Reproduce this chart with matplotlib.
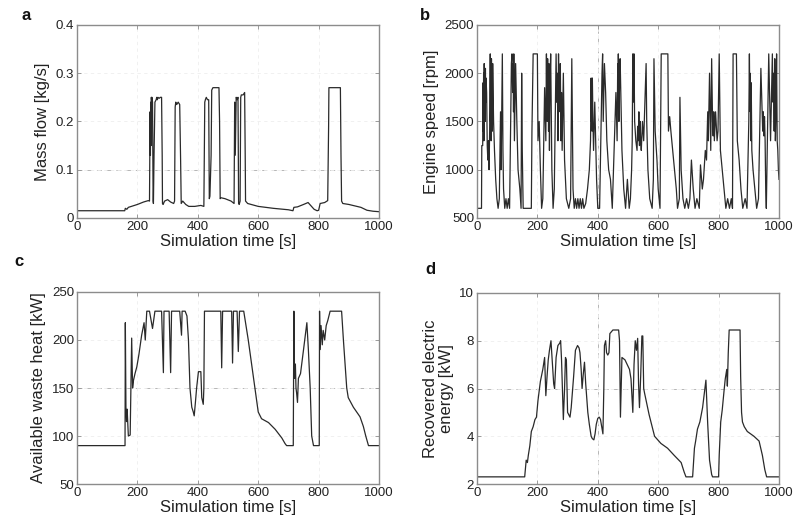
import numpy as np
import matplotlib
matplotlib.use("Agg")
import matplotlib.pyplot as plt

plt.rcParams['font.family'] = ['Liberation Sans', 'DejaVu Sans']

# a. mass flow [kg/s], (time, value)
a_points = [(0, 0.015), (158, 0.015), (160, 0.02), (165, 0.018), (170, 0.022), (180, 0.024), (200, 0.028),
            (220, 0.033), (236, 0.036), (240, 0.035), (242, 0.22), (243, 0.13), (244, 0.24), (245, 0.15),
            (246, 0.25), (247, 0.24), (248, 0.25), (250, 0.24), (252, 0.035), (253, 0.03), (255, 0.13),
            (258, 0.24), (262, 0.245), (264, 0.25), (266, 0.245), (268, 0.25), (272, 0.248), (276, 0.25),
            (280, 0.25), (282, 0.13), (283, 0.03), (285, 0.028), (290, 0.035), (300, 0.038), (310, 0.033),
            (320, 0.03), (323, 0.035), (325, 0.23), (327, 0.24), (330, 0.235), (335, 0.24), (340, 0.235),
            (343, 0.12), (345, 0.03), (350, 0.035), (360, 0.028), (370, 0.024), (390, 0.024), (410, 0.026),
            (420, 0.024), (423, 0.24), (425, 0.245), (428, 0.25), (432, 0.245), (436, 0.245), (438, 0.04),
            (440, 0.045), (444, 0.13), (446, 0.265), (450, 0.27), (470, 0.27), (472, 0.2), (474, 0.04),
            (476, 0.042), (490, 0.04), (510, 0.035), (520, 0.03), (522, 0.24), (524, 0.13), (527, 0.25),
            (530, 0.245), (533, 0.25), (535, 0.03), (537, 0.028), (540, 0.035), (542, 0.25), (544, 0.255),
            (550, 0.255), (555, 0.26), (557, 0.12), (558, 0.035), (565, 0.03), (600, 0.024), (650, 0.02),
            (700, 0.017), (715, 0.015), (718, 0.022), (730, 0.023), (750, 0.028), (765, 0.032), (775, 0.025),
            (785, 0.018), (795, 0.015), (800, 0.016), (805, 0.03), (820, 0.032), (830, 0.036), (833, 0.19),
            (834, 0.27), (850, 0.27), (872, 0.27), (874, 0.13), (876, 0.035), (880, 0.03), (900, 0.028),
            (920, 0.025), (940, 0.022), (960, 0.016), (980, 0.014), (1000, 0.013)]

# b. engine speed [rpm]
b_points = [(0, 600), (15, 600), (16, 1250), (19, 1250), (20, 1900), (21, 1400), (22, 2000), (23, 1300),
            (24, 2100), (25, 1600), (26, 2000), (27, 1500), (28, 2050), (29, 1700), (30, 1950), (32, 1800),
            (34, 1250), (36, 1100), (38, 1300), (40, 1000), (42, 1400), (44, 2200), (45, 1500), (46, 2000),
            (47, 1300), (48, 2150), (49, 1500), (50, 2000), (51, 1400), (52, 2100), (55, 1500), (58, 1200),
            (62, 900), (66, 700), (70, 600), (74, 700), (78, 1600), (80, 1000), (84, 2200), (86, 1200),
            (88, 800), (92, 600), (96, 700), (100, 600), (104, 700), (108, 600), (114, 2100), (116, 2200),
            (118, 1800), (120, 2100), (121, 1600), (122, 2200), (124, 1300), (128, 2100), (132, 1500),
            (136, 1000), (142, 800), (146, 600), (148, 2000), (150, 1200), (153, 600), (180, 600), (182, 1400),
            (186, 2200), (200, 2200), (202, 1300), (206, 1500), (210, 1000), (214, 600), (218, 700), (224, 1850),
            (228, 1300), (230, 2200), (231, 1700), (232, 2000), (233, 1500), (234, 2150), (235, 1600),
            (236, 2000), (237, 1400), (238, 2100), (240, 1200), (242, 1900), (244, 2200), (248, 1000), (252, 600),
            (256, 800), (262, 2200), (264, 1700), (266, 2000), (268, 1300), (270, 2200), (272, 1700), (274, 2000),
            (275, 1600), (276, 2100), (278, 1300), (280, 1800), (282, 1200), (286, 2000), (290, 1100), (296, 700),
            (304, 600), (310, 700), (314, 2150), (318, 800), (322, 600), (326, 700), (330, 600), (334, 700),
            (338, 600), (342, 700), (346, 600), (350, 700), (354, 600), (360, 650), (366, 800), (372, 1000),
            (376, 1300), (378, 1950), (379, 1500), (380, 1900), (381, 1400), (382, 1950), (384, 1500),
            (386, 1200), (390, 1700), (396, 900), (400, 600), (406, 600), (410, 1300), (414, 2000), (416, 2200),
            (418, 1500), (422, 2100), (426, 1800), (430, 1300), (436, 1000), (442, 900), (448, 600), (454, 1200),
            (460, 1800), (464, 1300), (466, 2100), (467, 1700), (468, 2200), (470, 1500), (472, 1900),
            (474, 2150), (480, 1200), (486, 800), (492, 600), (498, 900), (504, 600), (508, 700), (512, 1000),
            (514, 1300), (516, 2200), (517, 1700), (518, 2100), (519, 1800), (520, 2200), (522, 1500),
            (526, 1300), (530, 1200), (532, 1450), (534, 1300), (536, 1600), (538, 1250), (540, 1500),
            (542, 1300), (544, 1200), (548, 1500), (552, 1300), (556, 1700), (560, 2100), (562, 1500),
            (566, 1000), (572, 700), (580, 600), (584, 900), (586, 2150), (590, 1400), (592, 1300), (596, 1100),
            (600, 800), (606, 600), (610, 2200), (632, 2200), (634, 1400), (638, 1550), (642, 1400), (648, 1200),
            (654, 1000), (660, 800), (664, 600), (670, 700), (672, 1750), (676, 1000), (682, 700), (688, 600),
            (694, 700), (700, 600), (705, 700), (710, 1100), (716, 800), (722, 600), (728, 700), (736, 600),
            (740, 1050), (746, 800), (750, 900), (756, 1200), (760, 1100), (764, 1600), (766, 1300), (770, 2000),
            (774, 1200), (777, 2150), (780, 1500), (782, 1350), (784, 1600), (786, 1300), (790, 1600), (795, 1300),
            (798, 1400), (802, 2200), (806, 1200), (812, 1000), (818, 800), (824, 600), (830, 700), (836, 600),
            (842, 700), (846, 600), (848, 2200), (859, 2200), (862, 1300), (868, 1100), (874, 800), (880, 600),
            (888, 700), (894, 600), (900, 1500), (902, 2200), (903, 1800), (904, 2000), (905, 1600), (906, 1900),
            (907, 1300), (908, 1900), (910, 1200), (914, 1000), (920, 800), (926, 600), (932, 700), (940, 2050),
            (946, 1400), (948, 1600), (950, 1350), (952, 1550), (954, 1300), (956, 800), (958, 600), (962, 1400),
            (966, 2200), (972, 1300), (978, 2200), (980, 1700), (982, 2000), (984, 1400), (986, 2150),
            (988, 1300), (990, 1600), (992, 2200), (994, 1300), (996, 1200), (998, 1000), (1000, 900)]

# c. available waste heat [kW]
c_points = [(0, 90), (159, 90), (160, 218), (162, 130), (164, 115), (166, 128), (170, 100), (176, 101),
            (181, 202), (184, 150), (187, 158), (192, 165), (198, 172), (205, 185), (214, 205), (222, 218),
            (226, 200), (231, 230), (240, 230), (250, 212), (258, 230), (280, 230), (286, 166), (288, 230),
            (305, 230), (310, 166), (313, 230), (340, 230), (346, 205), (348, 230), (358, 230), (364, 225),
            (369, 200), (374, 150), (380, 130), (385, 125), (388, 121), (392, 135), (396, 150), (402, 167),
            (410, 167), (413, 140), (418, 133), (420, 150), (422, 230), (476, 230), (479, 171), (482, 230),
            (512, 230), (515, 176), (518, 230), (530, 230), (534, 188), (538, 230), (552, 230), (567, 200),
            (578, 175), (589, 150), (600, 125), (611, 118), (634, 114), (656, 107), (678, 98), (689, 92),
            (694, 90), (716, 90), (718, 230), (720, 160), (723, 175), (725, 150), (727, 145), (730, 135),
            (733, 160), (740, 165), (750, 190), (761, 218), (766, 190), (772, 150), (777, 100), (783, 90),
            (802, 90), (803, 230), (805, 190), (808, 215), (812, 195), (815, 210), (820, 200), (825, 215),
            (830, 220), (838, 230), (876, 230), (882, 200), (893, 150), (898, 140), (915, 130), (937, 120),
            (948, 110), (956, 100), (965, 90), (1000, 90)]

# d. recovered electric energy [kW]
d_points = [(0, 2.3), (158, 2.3), (163, 3.0), (167, 2.9), (170, 3.2), (175, 3.6), (180, 4.2), (186, 4.4),
            (192, 4.7), (197, 4.8), (202, 5.5), (210, 6.3), (218, 6.8), (224, 7.3), (228, 5.7), (232, 6.5),
            (236, 7.2), (240, 7.6), (245, 8.0), (250, 7.0), (254, 6.2), (257, 6.0), (262, 7.3), (268, 7.8),
            (274, 7.9), (277, 8.0), (280, 7.2), (286, 4.7), (290, 6.0), (293, 7.3), (296, 7.2), (300, 5.0),
            (304, 4.9), (308, 4.8), (312, 5.2), (320, 6.5), (326, 7.6), (333, 7.8), (338, 7.7), (341, 7.5),
            (345, 6.8), (348, 6.0), (352, 6.6), (356, 7.1), (360, 6.2), (367, 5.0), (372, 4.5), (378, 4.0),
            (382, 3.9), (387, 3.85), (391, 4.1), (395, 4.5), (400, 4.75), (405, 4.8), (409, 4.7), (413, 4.4),
            (417, 4.1), (420, 6.0), (422, 7.8), (426, 8.0), (429, 7.5), (433, 7.4), (437, 7.5), (440, 8.3),
            (450, 8.45), (469, 8.45), (472, 8.0), (475, 4.8), (480, 7.3), (490, 7.2), (505, 6.8), (510, 6.4),
            (516, 5.0), (520, 7.0), (524, 8.0), (528, 7.6), (532, 8.1), (535, 6.2), (538, 5.2), (542, 6.5),
            (546, 8.2), (549, 8.2), (552, 6.0), (555, 5.8), (560, 5.5), (570, 4.9), (588, 4.0), (609, 3.7),
            (631, 3.5), (653, 3.2), (676, 2.9), (686, 2.5), (692, 2.3), (714, 2.3), (720, 3.5), (724, 3.8),
            (730, 4.3), (738, 4.6), (747, 5.2), (758, 6.35), (764, 4.5), (770, 3.0), (777, 2.4), (780, 2.3),
            (800, 2.3), (802, 3.2), (807, 4.6), (812, 5.1), (818, 5.9), (822, 6.4), (827, 6.8), (829, 6.1),
            (832, 7.5), (835, 8.45), (871, 8.45), (873, 6.5), (876, 5.0), (879, 4.6), (885, 4.4), (895, 4.2),
            (906, 4.1), (917, 4.0), (934, 3.8), (945, 3.2), (953, 2.6), (959, 2.3), (1000, 2.3)]

time_ticks = [0, 200, 400, 600, 800, 1000]

fig = plt.figure(figsize=(7.98, 5.26), dpi=100)
axa = fig.add_axes([0.0965, 0.5856, 0.3785, 0.3670])
axb = fig.add_axes([0.5977, 0.5856, 0.3785, 0.3670])
axc = fig.add_axes([0.0965, 0.0798, 0.3785, 0.3651])
axd = fig.add_axes([0.5977, 0.0798, 0.3785, 0.3632])

line_col = '#2a2a2a'
frame_col = '#8c8c8c'
text_col = '#222222'

for ax, pts, lw in [(axa, a_points, 0.9), (axb, b_points, 0.9), (axc, c_points, 0.9), (axd, d_points, 0.9)]:
    t = [p[0] for p in pts]
    v = [p[1] for p in pts]
    ax.plot(t, v, color=line_col, lw=lw)

axa.set_ylim(0, 0.4)
axa.set_yticks([0, 0.1, 0.2, 0.3, 0.4])
axa.set_yticklabels(['0', '0.1', '0.2', '0.3', '0.4'])
axb.set_ylim(500, 2500)
axb.set_yticks([500, 1000, 1500, 2000, 2500])
axc.set_ylim(50, 250)
axc.set_yticks([50, 100, 150, 200, 250])
axd.set_ylim(2, 10)
axd.set_yticks([2, 4, 6, 8, 10])

axa.set_ylabel('Mass flow [kg/s]', fontsize=12, color=text_col)
axb.set_ylabel('Engine speed [rpm]', fontsize=12, color=text_col)
axc.set_ylabel('Available waste heat [kW]', fontsize=12, color=text_col)
axd.set_ylabel('Recovered electric\nenergy [kW]', fontsize=12, color=text_col, linespacing=1.1)

for ax in (axa, axb, axc, axd):
    ax.set_xlim(0, 1000)
    ax.set_xticks(time_ticks)
    ax.set_xlabel('Simulation time [s]', fontsize=12, color=text_col, labelpad=1)
    ax.grid(True, color='#eeeeee', linestyle=(0, (4, 4)), lw=0.6)
    ax.set_axisbelow(True)
    ax.tick_params(direction='in', top=True, right=True, length=3, width=0.6,
                   colors=frame_col, labelcolor=text_col, labelsize=9.5, pad=2)
    for s in ax.spines.values():
        s.set_color(frame_col)
        s.set_linewidth(1.0)

# the grid lines that stand out in the picture
axa.axhline(0.1, color='#b5b5b5', linestyle=(0, (5, 5)), lw=0.7, zorder=0.5)
axb.axvline(400, color='#b5b5b5', linestyle=(0, (5, 5)), lw=0.7, zorder=0.5)
axc.axhline(150, color='#b5b5b5', linestyle=(0, (5, 5)), lw=0.7, zorder=0.5)
axd.axhline(6, color='#b5b5b5', linestyle=(0, (5, 5)), lw=0.7, zorder=0.5)
axd.axvline(400, color='#b5b5b5', linestyle=(0, (5, 5)), lw=0.7, zorder=0.5)

# panel letters
for lab, x, y in [('a', 26, 15), ('b', 425, 15), ('c', 19, 261), ('d', 430, 270)]:
    fig.text(x / 798, 1 - y / 526, lab, fontsize=12, fontweight='bold', color='#111111',
             ha='center', va='center')

fig.savefig('out.png', dpi=100)
